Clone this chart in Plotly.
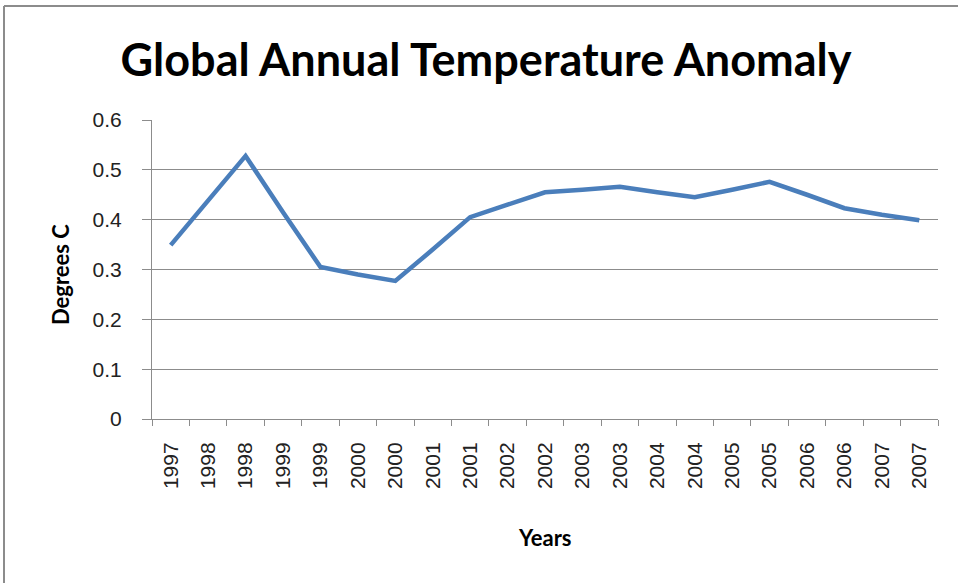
import plotly.graph_objects as go

year_labels = ["1997", "1998", "1998", "1999", "1999", "2000", "2000", "2001", "2001",
               "2002", "2002", "2003", "2003", "2004", "2004", "2005", "2005",
               "2006", "2006", "2007", "2007"]
anomaly = [0.349, 0.44, 0.528, 0.415, 0.305, 0.29, 0.277, 0.34, 0.405,
           0.43, 0.455, 0.46, 0.466, 0.455, 0.445, 0.46, 0.476,
           0.45, 0.423, 0.41, 0.399]
y_ticks = [0, 0.1, 0.2, 0.3, 0.4, 0.5, 0.6]

positions = list(range(len(year_labels)))

W, H = 958, 583
L, R, T, B = 152, 20, 120, 164
pw, ph = W - L - R, H - T - B


def px_x(p):
    return (p - L) / pw


def px_y(p):
    return (H - B - p) / ph


fig = go.Figure()
fig.add_trace(go.Scatter(
    x=positions, y=anomaly, mode="lines",
    line=dict(color="#4a7ebb", width=4.5),
    showlegend=False, hoverinfo="y",
))

grey = "#8c8c8c"
tick_font = dict(family="Liberation Sans, Arial, sans-serif", size=21, color="#222222")
label_font = dict(family="Lato, Open Sans, sans-serif", size=22, color="black")

fig.update_layout(
    width=W, height=H,
    margin=dict(l=L, r=R, t=T, b=B),
    paper_bgcolor="white", plot_bgcolor="white",
    title=dict(text="<b>Global Annual Temperature Anomaly</b>",
               font=dict(family="Lato, Open Sans, sans-serif", size=45, color="black"),
               x=486 / W, xanchor="center", xref="container",
               y=1 - 60 / H, yanchor="middle", yref="container"),
    xaxis=dict(
        range=[-0.5, len(year_labels) - 0.5],
        tickmode="array", tickvals=positions, ticktext=year_labels,
        tickangle=-90, tickfont=tick_font,
        ticks="outside", ticklen=6, tickcolor="rgba(0,0,0,0)",
        ticklabelstandoff=8,
        showgrid=False, zeroline=False,
        showline=True, linecolor=grey, linewidth=1,
        minor=dict(tickmode="linear", tick0=-0.5, dtick=1, ticks="outside",
                   ticklen=6, tickcolor=grey, showgrid=False),
        fixedrange=True,
    ),
    yaxis=dict(
        range=[0, 0.6], tickmode="array", tickvals=y_ticks,
        tickfont=tick_font,
        ticks="outside", ticklen=9, tickcolor=grey,
        ticklabelstandoff=16,
        showgrid=True, gridcolor=grey, gridwidth=1,
        zeroline=False, showline=True, linecolor=grey, linewidth=1,
        fixedrange=True,
    ),
    annotations=[
        dict(text="<b>Years</b>", x=0.5, y=px_y(537), xref="paper", yref="paper",
             showarrow=False, xanchor="center", yanchor="middle", font=label_font),
        dict(text="<b>Degrees C</b>", x=px_x(60), y=px_y(275), xref="paper", yref="paper",
             showarrow=False, xanchor="center", yanchor="middle", textangle=-90,
             font=label_font),
    ],
    shapes=[
        dict(type="line", xref="paper", yref="paper",
             x0=px_x(4), x1=px_x(962), y0=px_y(6), y1=px_y(6),
             line=dict(color=grey, width=2)),
        dict(type="line", xref="paper", yref="paper",
             x0=px_x(4), x1=px_x(4), y0=px_y(6), y1=px_y(590),
             line=dict(color=grey, width=2)),
    ],
)

fig.write_html("out.html", config={"displayModeBar": False},
               post_script="document.body.style.margin='0';")
